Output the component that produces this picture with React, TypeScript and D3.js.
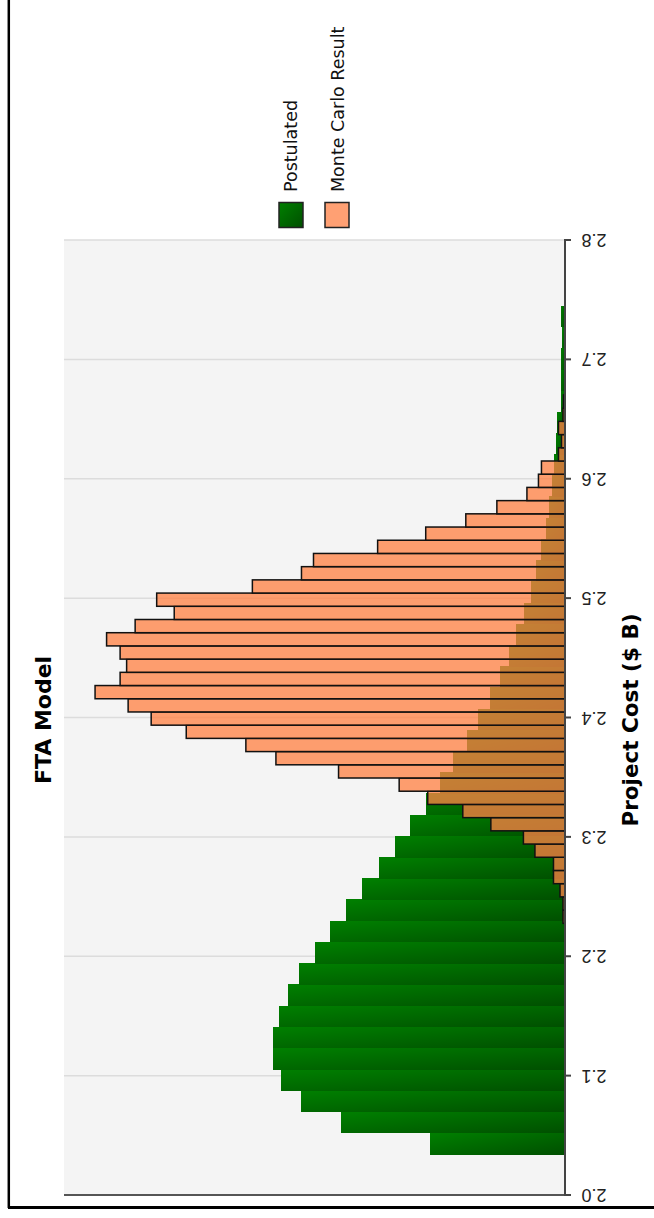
import React from "react";
import * as d3 from "d3";

// ---- Data ----
const chartTitle = "FTA Model";
const axisTitle = "Project Cost ($ B)";
const costTicks = [2.0, 2.1, 2.2, 2.3, 2.4, 2.5, 2.6, 2.7, 2.8];
const seriesNames = ["Postulated", "Monte Carlo Result"];

// Postulated distribution: bins starting at 2.0343, width 0.01777 ($B)
const postulatedStart = 2.0343;
const postulatedBinWidth = 0.01777;
const postulatedFreq = [
  26.9, 44.8, 52.7, 56.7, 58.3, 58.3, 57.0, 55.3, 53.0, 50.0,
  47.0, 43.8, 40.5, 37.1, 33.9, 30.9, 27.8, 25.0, 22.3, 19.6,
  17.3, 15.0, 13.0, 11.1, 9.8, 8.1, 6.8, 5.8, 4.8, 3.8,
  3.1, 2.5, 2.1, 1.8, 1.5, 0.8, 0.8, 0.8, 0.5, 0.8,
];

// Monte Carlo result: bins starting at 2.2276, width 0.011065 ($B)
const mcStart = 2.2276;
const mcBinWidth = 0.011065;
const mcFreq = [
  0.4, 0.4, 1.0, 2.3, 2.3, 6.0, 8.3, 14.8, 20.4, 27.4,
  33.1, 45.2, 57.7, 63.7, 75.6, 82.6, 87.2, 93.8, 88.8, 87.5,
  88.8, 91.5, 85.8, 78.0, 81.5, 62.4, 52.6, 50.2, 37.4, 27.8,
  19.8, 13.6, 7.6, 5.3, 4.7, 1.3, 0.7, 1.3, 0.4, 0.3,
];

const W = 654;
const H = 1218;
const plot = { left: 64, right: 565, top: 240, bottom: 1195 };

export default function App() {
  const y = d3.scaleLinear().domain([2.0, 2.8]).range([plot.bottom, plot.top]);
  const x = d3.scaleLinear().domain([0, 100]).range([plot.right, plot.left]);

  const postBars = postulatedFreq.map((v, i) => {
    const lo = postulatedStart + i * postulatedBinWidth;
    const hi = lo + postulatedBinWidth;
    return { lo, hi, v };
  });
  const mcBars = mcFreq.map((v, i) => {
    const lo = mcStart + i * mcBinWidth;
    const hi = lo + mcBinWidth;
    return { lo, hi, v };
  });

  const titleFont = "'DejaVu Sans', Verdana, sans-serif";

  return (
    <svg
      width={W}
      height={H}
      style={{ position: "absolute", left: 0, top: 0, background: "#fff" }}
    >
      <defs>
        <linearGradient id="greenGrad" x1="0" y1="0" x2="1" y2="1">
          <stop offset="0%" stopColor="#008000" />
          <stop offset="100%" stopColor="#004f00" />
        </linearGradient>
      </defs>

      {/* outer frame */}
      <line x1={8.8} x2={8.8} y1={0} y2={1208} stroke="#000" strokeWidth={2.5} />
      <line x1={8} x2={W} y1={1207.5} y2={1207.5} stroke="#000" strokeWidth={3} />

      {/* plot background */}
      <rect
        x={plot.left}
        y={plot.top}
        width={plot.right - plot.left}
        height={plot.bottom - plot.top}
        fill="#f4f4f4"
      />

      {/* gridlines */}
      {costTicks.slice(1).map((t) => (
        <line
          key={"g" + t}
          x1={plot.left}
          x2={plot.right}
          y1={y(t)}
          y2={y(t)}
          stroke="#dcdcdc"
          strokeWidth={1.5}
        />
      ))}

      {/* Postulated bars */}
      {postBars.map((b, i) => (
        <rect
          key={"p" + i}
          x={x(b.v)}
          y={y(b.hi)}
          width={x(0) - x(b.v)}
          height={y(b.lo) - y(b.hi) + 0.5}
          fill="url(#greenGrad)"
          shapeRendering="crispEdges"
        />
      ))}

      {/* Monte Carlo bars */}
      {mcBars.map((b, i) => (
        <rect
          key={"m" + i}
          x={x(b.v)}
          y={y(b.hi)}
          width={x(0) - x(b.v)}
          height={y(b.lo) - y(b.hi)}
          fill="rgb(255,130,69)"
          fillOpacity={0.77}
          stroke="#111"
          strokeWidth={1.5}
        />
      ))}

      {/* axes */}
      <line
        x1={plot.right}
        x2={plot.right}
        y1={plot.top}
        y2={plot.bottom}
        stroke="#444"
        strokeWidth={2}
      />
      <line
        x1={plot.left}
        x2={plot.right}
        y1={plot.bottom}
        y2={plot.bottom}
        stroke="#555"
        strokeWidth={2}
      />
      {costTicks.map((t) => (
        <g key={"t" + t}>
          <line
            x1={plot.right - 1}
            x2={plot.right + 6}
            y1={y(t)}
            y2={y(t)}
            stroke="#444"
            strokeWidth={2}
          />
          <text
            transform={`translate(594,${y(t)}) rotate(180)`}
            textAnchor="middle"
            dominantBaseline="central"
            fontFamily="'Liberation Sans', Arial, sans-serif"
            fontSize={18}
            fill="#222"
          >
            {t.toFixed(1)}
          </text>
        </g>
      ))}

      {/* titles */}
      <text
        transform={`translate(51,720) rotate(-90)`}
        textAnchor="middle"
        fontFamily={titleFont}
        fontWeight="bold"
        fontSize={22}
        fill="#000"
      >
        {chartTitle}
      </text>
      <text
        transform={`translate(638,720) rotate(-90)`}
        textAnchor="middle"
        fontFamily={titleFont}
        fontWeight="bold"
        fontSize={21.5}
        fill="#000"
      >
        {axisTitle}
      </text>

      {/* legend */}
      <rect x={279} y={202.5} width={24} height={25} fill="url(#greenGrad)" stroke="#222" strokeWidth={1.5} />
      <rect x={325} y={202.5} width={24} height={25} fill="rgb(255,160,115)" stroke="#222" strokeWidth={1.5} />
      <text
        transform={`translate(297,192) rotate(-90)`}
        textAnchor="start"
        fontFamily={titleFont}
        fontSize={17.5}
        fill="#111"
      >
        {seriesNames[0]}
      </text>
      <text
        transform={`translate(344,192) rotate(-90)`}
        textAnchor="start"
        fontFamily={titleFont}
        fontSize={17.5}
        fill="#111"
      >
        {seriesNames[1]}
      </text>
    </svg>
  );
}
